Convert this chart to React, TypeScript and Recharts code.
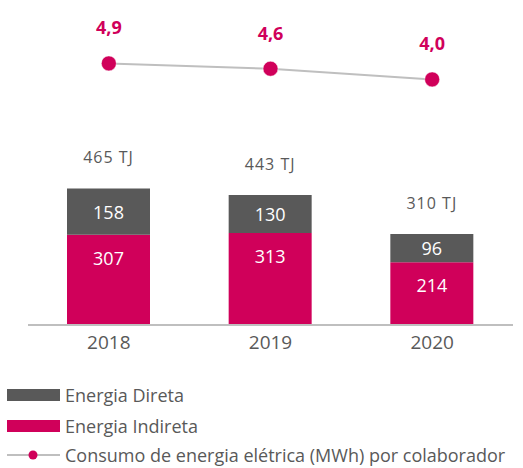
import React from "react";
import { ComposedChart, Bar, Line, XAxis, YAxis, LabelList } from "recharts";

const years = ["2018", "2019", "2020"];
const energiaIndireta = [307, 313, 214];
const energiaDireta = [158, 130, 96];
const consumoPorColaborador = [4.9, 4.6, 4.0];

const MAGENTA = "#D0005A";
const DARK = "#595959";
const LINE = "#BFBFBF";
const FONT = "'Open Sans', sans-serif";

const data = years.map((y, i) => ({
  year: y,
  indireta: energiaIndireta[i],
  direta: energiaDireta[i],
  total: energiaIndireta[i] + energiaDireta[i],
  consumo: consumoPorColaborador[i],
}));

const fmt = (v: number) => v.toFixed(1).replace(".", ",");

const IndLabel = (p: any) => {
  const { x, y, width, value } = p;
  return (
    <text x={x + width / 2} y={y + 23} textAnchor="middle" dominantBaseline="central" fill="#fff" fontSize={18} fontFamily={FONT}>
      {value}
    </text>
  );
};

const DirLabel = (p: any) => {
  const { x, y, width, height, value } = p;
  return (
    <text x={x + width / 2} y={y + height / 2} textAnchor="middle" dominantBaseline="central" fill="#fff" fontSize={18} fontFamily={FONT}>
      {value}
    </text>
  );
};

const TotalLabel = (p: any) => {
  const { x, y, width, index } = p;
  return (
    <text x={x + width / 2} y={y - 31} textAnchor="middle" dominantBaseline="central" fill={DARK} fontSize={16} letterSpacing={1} fontFamily={FONT}>
      {`${data[index].total} TJ`}
    </text>
  );
};

const LineLabel = (p: any) => {
  const { x, y, value } = p;
  return (
    <text x={x} y={y - 36} textAnchor="middle" dominantBaseline="central" fill={MAGENTA} fontSize={18} fontWeight={700} fontFamily={FONT}>
      {fmt(value)}
    </text>
  );
};

const legendItems = [
  { label: "Energia Direta", type: "rect", color: DARK },
  { label: "Energia Indireta", type: "rect", color: MAGENTA },
  { label: "Consumo de energia elétrica (MWh) por colaborador", type: "line", color: MAGENTA },
];
const legendRowCenters = [395, 426, 455];

export default function App() {
  return (
    <div style={{ position: "fixed", left: 0, top: 0, width: 523, height: 468, overflow: "hidden", background: "#fff", fontFamily: FONT }}>
      <ComposedChart width={523} height={360} data={data} margin={{ top: 10, right: 10, left: 28, bottom: 5 }}>
        <XAxis
          dataKey="year"
          height={30}
          tickLine={false}
          axisLine={{ stroke: LINE, strokeWidth: 2 }}
          tick={{ fill: DARK, fontSize: 19, fontFamily: FONT, dy: 3 }}
        />
        <YAxis yAxisId="bar" hide domain={[0, 1073]} />
        <YAxis yAxisId="line" hide domain={[-9.8, 7.9]} />
        <Bar yAxisId="bar" dataKey="indireta" stackId="a" fill={MAGENTA} barSize={83} isAnimationActive={false}>
          <LabelList dataKey="indireta" content={IndLabel} />
        </Bar>
        <Bar yAxisId="bar" dataKey="direta" stackId="a" fill={DARK} barSize={83} isAnimationActive={false}>
          <LabelList dataKey="direta" content={DirLabel} />
          <LabelList dataKey="total" content={TotalLabel} />
        </Bar>
        <Line
          yAxisId="line"
          dataKey="consumo"
          stroke={LINE}
          strokeWidth={2}
          dot={{ r: 7.5, fill: MAGENTA, stroke: "#fff", strokeWidth: 0.5 }}
          isAnimationActive={false}
        >
          <LabelList dataKey="consumo" content={LineLabel} />
        </Line>
      </ComposedChart>
      {legendItems.map((it, i) => (
        <div
          key={it.label}
          style={{ position: "absolute", left: 7, top: legendRowCenters[i] - 11, height: 22, display: "flex", alignItems: "center" }}
        >
          <svg width={54} height={22} style={{ display: "block" }}>
            {it.type === "rect" ? (
              <rect x={0} y={5} width={53} height={12} fill={it.color} />
            ) : (
              <g>
                <line x1={0} y1={11} x2={53} y2={11} stroke={LINE} strokeWidth={2} />
                <circle cx={26} cy={11} r={4.5} fill={it.color} />
              </g>
            )}
          </svg>
          <span style={{ marginLeft: 4, fontSize: 18, color: DARK, whiteSpace: "nowrap", lineHeight: "22px" }}>{it.label}</span>
        </div>
      ))}
    </div>
  );
}
